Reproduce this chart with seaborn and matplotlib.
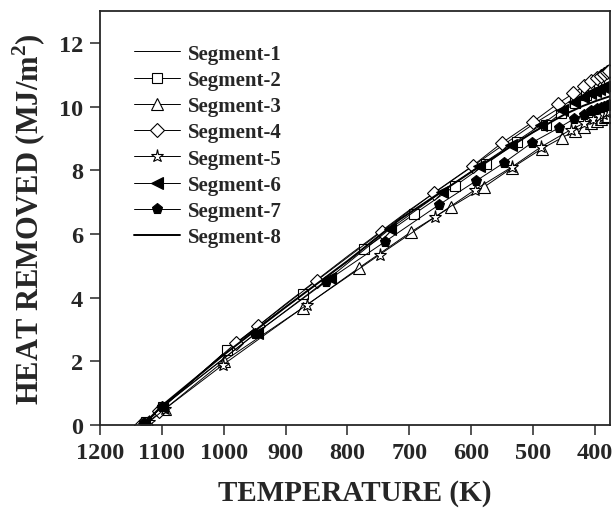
import numpy as np
import pandas as pd
import matplotlib
matplotlib.use('Agg')
import matplotlib.pyplot as plt
import seaborn as sns

# temperature (K) / heat removed (MJ/m2) per segment
t_seg1 = [1130, 1100, 1000, 900, 800, 700, 600, 500, 450, 420, 400, 385, 377]
q_seg1 = [0.0, 0.55, 2.25, 3.8, 5.3, 6.75, 8.1, 9.45, 10.05, 10.45, 10.65, 10.8, 10.88]

t_seg2 = [1125, 1098, 994, 872, 773, 692, 627, 576, 526, 479, 455, 432, 415, 403, 394, 387, 382, 378]
q_seg2 = [0.1, 0.55, 2.36, 4.1, 5.53, 6.63, 7.5, 8.2, 8.9, 9.43, 9.8, 10.12, 10.36, 10.53, 10.66, 10.76, 10.84, 10.9]

t_seg3 = [1122, 1095, 1000, 872, 781, 697, 632, 579, 534, 486, 453, 432, 418, 406, 397, 390, 384, 380]
q_seg3 = [0.1, 0.5, 2.0, 3.68, 4.94, 6.07, 6.86, 7.48, 8.08, 8.68, 9.03, 9.25, 9.37, 9.48, 9.56, 9.62, 9.67, 9.7]

t_seg4 = [1133, 1105, 980, 945, 850, 745, 660, 598, 550, 500, 460, 435, 418, 406, 397, 390, 385, 381, 378]
q_seg4 = [0.0, 0.45, 2.58, 3.1, 4.53, 6.07, 7.3, 8.14, 8.87, 9.53, 10.1, 10.42, 10.65, 10.8, 10.9, 10.98, 11.04, 11.08, 11.12]

t_seg5 = [1120, 1095, 1001, 866, 748, 658, 594, 534, 487, 439, 418, 404, 394, 387, 382, 378]
q_seg5 = [0.1, 0.5, 1.89, 3.77, 5.35, 6.54, 7.39, 8.11, 8.74, 9.28, 9.48, 9.62, 9.71, 9.77, 9.82, 9.85]

t_seg6 = [1128, 1100, 947, 829, 732, 647, 587, 536, 487, 453, 434, 420, 409, 400, 393, 387, 382, 378]
q_seg6 = [0.05, 0.57, 2.89, 4.62, 6.15, 7.33, 8.14, 8.8, 9.43, 9.9, 10.15, 10.3, 10.42, 10.5, 10.56, 10.61, 10.65, 10.68]

t_seg7 = [1128, 1100, 950, 835, 740, 652, 592, 547, 502, 458, 434, 418, 406, 397, 390, 385, 381, 378]
q_seg7 = [0.05, 0.55, 2.85, 4.5, 5.75, 6.92, 7.67, 8.24, 8.87, 9.34, 9.62, 9.75, 9.85, 9.92, 9.97, 10.0, 10.03, 10.05]

t_seg8 = [1130, 1100, 1000, 900, 800, 716, 600, 500, 450, 420, 400, 385, 377]
q_seg8 = [0.0, 0.6, 2.2, 3.7, 5.15, 6.45, 7.95, 9.2, 9.75, 10.02, 10.17, 10.27, 10.32]

labels = ['Segment-1', 'Segment-2', 'Segment-3', 'Segment-4',
          'Segment-5', 'Segment-6', 'Segment-7', 'Segment-8']
temps = [t_seg1, t_seg2, t_seg3, t_seg4, t_seg5, t_seg6, t_seg7, t_seg8]
heats = [q_seg1, q_seg2, q_seg3, q_seg4, q_seg5, q_seg6, q_seg7, q_seg8]

# marker, marker size, face colour, line width
styles = [(None, 0, 'white', 0.7),
          ('s', 6.5, 'white', 0.7),
          ('^', 8, 'white', 0.7),
          ('D', 7, 'white', 0.7),
          ('*', 9.5, 'white', 0.7),
          ('<', 8, 'black', 0.7),
          ('p', 8, 'black', 0.7),
          (None, 0, 'black', 1.4)]

sns.set_style('ticks')
plt.rcParams['font.family'] = ['Liberation Serif', 'DejaVu Serif']
plt.rcParams['font.weight'] = 'bold'
plt.rcParams['mathtext.fontset'] = 'custom'
plt.rcParams['mathtext.rm'] = 'Liberation Serif:bold'
plt.rcParams['mathtext.bf'] = 'Liberation Serif:bold'

fig = plt.figure(figsize=(6.13, 5.10), dpi=100)
ax = fig.add_axes([0.163, 0.165, 0.832, 0.811])

for t, q, lab, (m, ms, fc, lw) in zip(temps, heats, labels, styles):
    sns.lineplot(x=t, y=q, ax=ax, color='black', marker=m, markersize=ms,
                 markerfacecolor=fc, markeredgecolor='black', markeredgewidth=0.8,
                 linewidth=lw, sort=False, estimator=None, label=lab)

ax.set_xlim(1200, 376)
ax.set_ylim(0, 13)
ax.set_xticks(np.arange(1200, 399, -100))
ax.set_yticks(np.arange(0, 13, 2))
ax.tick_params(direction='out', length=7, width=1.1, labelsize=17.5, pad=5)
for lab in ax.get_xticklabels() + ax.get_yticklabels():
    lab.set_fontweight('bold')
for sp in ax.spines.values():
    sp.set_linewidth(1.3)
    sp.set_visible(True)

ax.set_xlabel('TEMPERATURE (K)', fontsize=21, fontweight='bold', labelpad=12)
ax.set_ylabel(r'HEAT REMOVED (MJ/m$^{2}$)', fontsize=22, fontweight='bold', labelpad=8)

leg = ax.legend(loc='upper left', bbox_to_anchor=(0.035, 0.962), frameon=False,
                prop={'family': 'Liberation Serif', 'weight': 'bold', 'size': 15},
                handlelength=2.2, handletextpad=0.35, labelspacing=0.3,
                borderaxespad=0.4)

fig.savefig('out.png', dpi=100)
